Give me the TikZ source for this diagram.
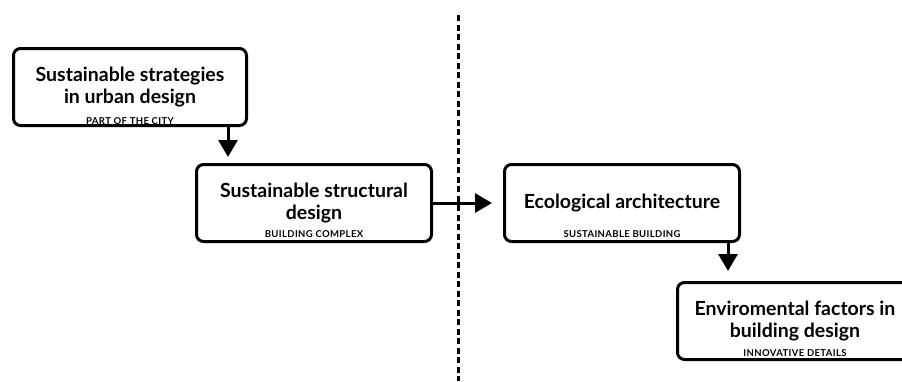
\documentclass[tikz,border=0pt]{standalone}
\usepackage{fontspec}
\setmainfont{Lato}
\newfontfamily\subfont[LetterSpace=4]{Lato}
\usetikzlibrary{arrows.meta}

\begin{document}
\begin{tikzpicture}
  [x=1pt, y=-1pt, line width=3pt, >={Triangle[length=17pt,width=19pt]},
   box/.style={draw, rounded corners=7pt, minimum width=235pt, minimum height=77pt,
     align=center, font=\bfseries\fontsize{19.5}{22}\selectfont},
   sub/.style={anchor=base, inner sep=0pt, font=\subfont\bfseries\fontsize{9.5}{10}\selectfont}]
  \useasboundingbox (0,0) rectangle (902,381);
  \node [name=urban, box, minimum width=233pt] at (130,87) {Sustainable strategies\\in urban design};
  \node [name=urbansub, sub] at ([yshift=3pt]urban.south) {PART OF THE CITY};
  \node [name=structural, box] at (314,203) {Sustainable structural\\design};
  \node [name=structuralsub, sub] at ([yshift=6pt]structural.south) {BUILDING COMPLEX};
  \node [name=ecological, box] at (622,203) {Ecological architecture};
  \node [name=ecologicalsub, sub] at ([yshift=6pt]ecological.south) {SUSTAINABLE BUILDING};
  \node [name=factors, box] at (795,321) {Enviromental factors in\\building design};
  \node [name=factorssub, sub] at ([yshift=4.5pt]factors.south) {INNOVATIVE DETAILS};

  \draw [dash pattern=on 6pt off 3.5pt] (458,15) -- (458,381);

  \path [->] ([xshift=98pt]urban.south) edge [shorten >=6pt] ([xshift=98pt]urban.south |- structural.north)
        (structural.east) edge [shorten >=11pt] (ecological.west)
        ([xshift=106pt]ecological.south) edge [shorten >=10pt] ([xshift=106pt]ecological.south |- factors.north);
\end{tikzpicture}
\end{document}
